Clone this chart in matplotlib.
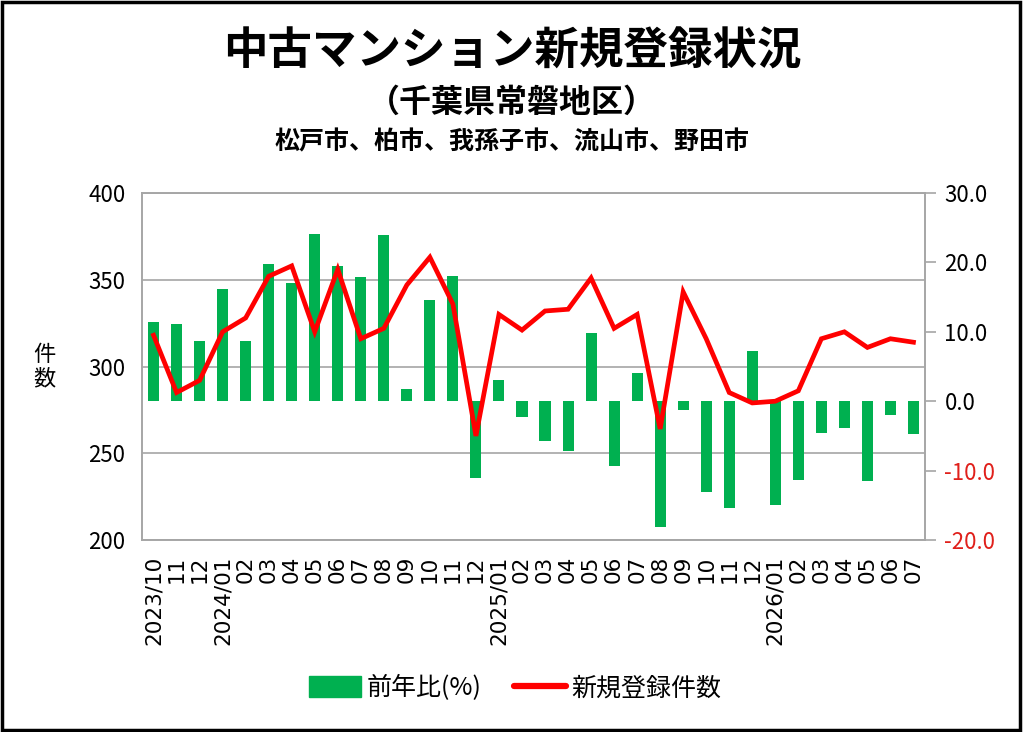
import matplotlib
matplotlib.use('Agg')
import matplotlib.pyplot as plt
import matplotlib.patches as mpatches
from matplotlib.lines import Line2D
import numpy as np

plt.rcParams['font.family'] = ['Noto Sans CJK JP', 'DejaVu Sans']

# months shown on the x axis
months = ["2023/10", "11", "12",
          "2024/01", "02", "03", "04", "05", "06", "07", "08", "09", "10", "11", "12",
          "2025/01", "02", "03", "04", "05", "06", "07", "08", "09", "10", "11", "12",
          "2026/01", "02", "03", "04", "05", "06", "07"]

# 前年比 (%), right axis
yoy = [11.4, 11.1, 8.7, 16.1, 8.7, 19.8, 17.1, 24.1, 19.5, 17.9, 23.9, 1.8,
       14.6, 18.1, -11.1, 3.1, -2.3, -5.8, -7.2, 9.8, -9.4, 4.1, -18.1, -1.3,
       -13.1, -15.4, 7.2, -15.0, -11.3, -4.6, -3.9, -11.5, -2.0, -4.7]

# 新規登録件数, left axis
counts = [318, 285, 292, 320, 328, 352, 358, 320, 356, 316, 322, 347,
          363, 336, 260, 330, 321, 332, 333, 351, 322, 330, 264, 343,
          316, 285, 279, 280, 286, 316, 320, 311, 316, 314]

left_ticks = [200, 250, 300, 350, 400]
right_ticks = [-20, -10, 0, 10, 20, 30]

GREEN = "#00B050"
RED = "#FF0000"
GRID = "#A6A6A6"

fig = plt.figure(figsize=(10.24, 7.32), dpi=100)
ax = fig.add_axes([0.1387, 0.2623, 0.7646, 0.474])
ax2 = ax.twinx()
ax3 = ax.twinx()

x = np.arange(len(months))

# left axis: counts scale + grid
ax.set_ylim(200, 400)
ax.set_yticks(left_ticks)
ax.set_yticklabels([str(t) for t in left_ticks], fontsize=16)
ax.tick_params(axis='y', length=0, pad=12)
ax.grid(axis='y', color=GRID, lw=1.2)
ax.set_axisbelow(True)
ax.set_xlim(-0.5, len(months) - 0.5)
ax.set_xticks(x)
ax.set_xticklabels(months, rotation=90, va='top')
ax.tick_params(axis='x', length=0, pad=11, labelsize=15.5,
               labelfontfamily='DejaVu Sans')
for s in ax.spines.values():
    s.set_color(GRID)
    s.set_linewidth(1.2)

# right axis: bars
ax2.bar(x, yoy, width=0.48, color=GREEN, zorder=2)
ax2.set_ylim(-20, 30)
ax2.set_yticks(right_ticks)
ax2.set_yticklabels([f"{t:.1f}" for t in right_ticks], fontsize=16)
for lab, t in zip(ax2.get_yticklabels(), right_ticks):
    if t < 0:
        lab.set_color("#E0201B")
ax2.tick_params(axis='y', length=8, width=1.2, color=GRID, pad=6)
for s in ax2.spines.values():
    s.set_color(GRID)
    s.set_linewidth(1.2)

# line on top
ax3.plot(x, counts, color=RED, lw=3.4, solid_joinstyle='miter', zorder=3)
ax3.set_ylim(200, 400)
ax3.set_yticks([])
for s in ax3.spines.values():
    s.set_visible(False)

ax.text(-0.125, 0.50, "件\n数", transform=ax.transAxes, ha='center', va='center',
        fontsize=16, linespacing=1.05)

fig.text(0.5, 0.929, "中古マンション新規登録状況", ha='center', va='center',
         fontsize=32, fontweight='bold')
fig.text(0.5, 0.859, "（千葉県常磐地区）", ha='center', va='center',
         fontsize=23, fontweight='bold')
fig.text(0.5, 0.805, "松戸市、柏市、我孫子市、流山市、野田市", ha='center', va='center',
         fontsize=18, fontweight='bold')

handles = [mpatches.Patch(color=GREEN), Line2D([0], [0], color=RED, lw=4.5,
                                               solid_capstyle='round')]
fig.legend(handles, ["前年比(%)", "新規登録件数"], loc='center',
           bbox_to_anchor=(0.503, 0.06), ncol=2, frameon=False, fontsize=18,
           handlelength=2.1, handleheight=0.9, handletextpad=0.2, columnspacing=1.3)

fig.add_artist(mpatches.Rectangle((0.002, 0.003), 0.994, 0.994, transform=fig.transFigure,
                                  fill=False, ec='black', lw=2.5))

fig.savefig("out.png", dpi=100)
